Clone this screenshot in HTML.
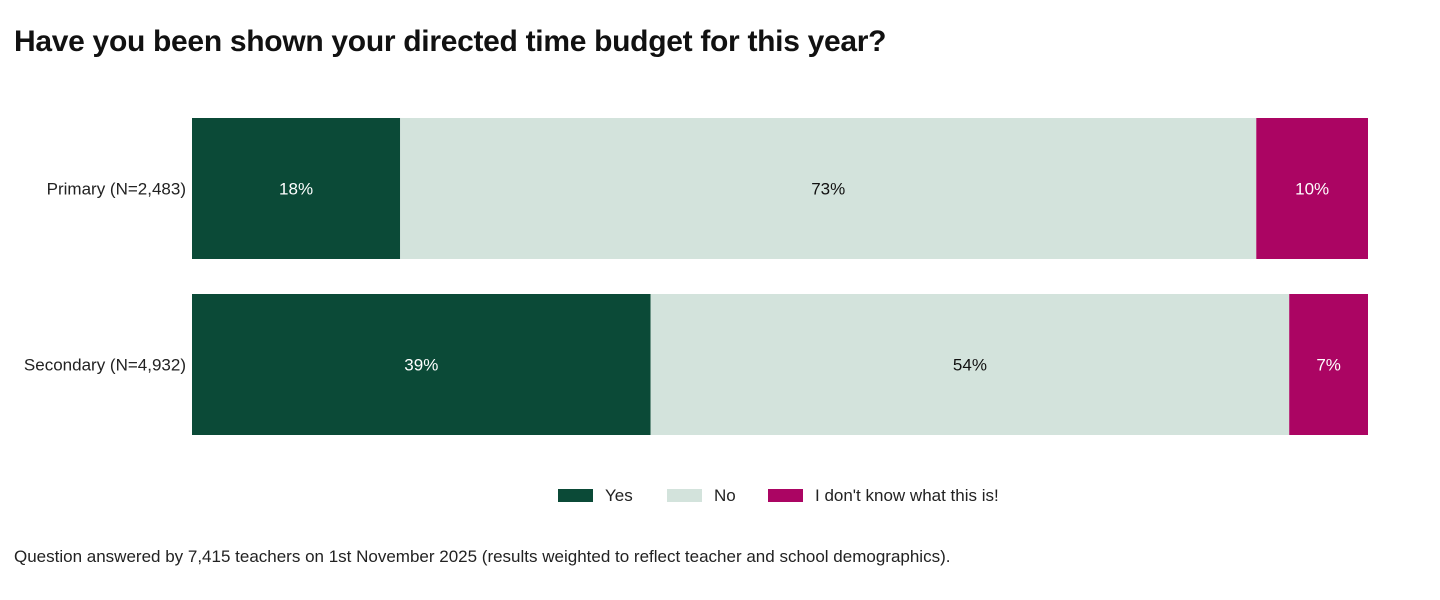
<!DOCTYPE html>
<html><head><meta charset="utf-8"><style>
body{margin:0;width:1440px;height:600px;background:#fff;font-family:"Liberation Sans",sans-serif;overflow:hidden;position:relative}
#title{position:absolute;left:14px;top:25px;font-size:30px;font-weight:bold;color:#111;letter-spacing:-0.3px;margin:0}
#note{position:absolute;left:14px;top:547px;font-size:17px;color:#222}
</style></head><body>
<h1 id="title">Have you been shown your directed time budget for this year?</h1>
<svg id="chart" width="1440" height="530" style="position:absolute;left:0;top:0"></svg>
<div id="note">Question answered by 7,415 teachers on 1st November 2025 (results weighted to reflect teacher and school demographics).</div>
<script>
const categories=["Primary (N=2,483)","Secondary (N=4,932)"];
const seriesNames=["Yes","No","I don't know what this is!"];
const yesVals=[17.7,39.0];
const noVals=[72.8,54.3];
const idkVals=[9.5,6.7];
const yesLabels=["18%","39%"];
const noLabels=["73%","54%"];
const idkLabels=["10%","7%"];
const colors=["#0b4a37","#d3e3dc","#ab0563"];
const textColors=["#fff","#111","#fff"];
const svg=document.getElementById('chart');
const NS="http://www.w3.org/2000/svg";
const x0=192,x1=1368;
const xs=v=>x0+(x1-x0)*v/100;
const bandTop=118,bandStep=176,barH=141;
const ys=i=>bandTop+i*bandStep;
function mk(t,a){const e=document.createElementNS(NS,t);for(const k in a)e.setAttribute(k,a[k]);svg.appendChild(e);return e;}
const series=[yesVals,noVals,idkVals],labels=[yesLabels,noLabels,idkLabels];
categories.forEach((c,i)=>{
  const y=ys(i);
  const t=mk('text',{x:186,y:y+barH/2+6,'text-anchor':'end','font-size':17,fill:'#222'});
  
  
  t.textContent=c;
  let cum=0;
  series.forEach((s,j)=>{
    const r=mk('rect',{x:xs(cum),y:y,width:xs(cum+s[i])-xs(cum),height:barH,fill:colors[j]});
    
    
    const lt=mk('text',{x:(xs(cum)+xs(cum+s[i]))/2,y:y+barH/2+6,'text-anchor':'middle','font-size':17,fill:textColors[j]});
    
    
    lt.textContent=labels[j][i];
    cum+=s[i];
  });
});
const legX=[558,667,768];
seriesNames.forEach((n,j)=>{
  const r=mk('rect',{x:legX[j],y:489,width:35,height:13,fill:colors[j]});
  
  
  const t=mk('text',{x:legX[j]+47,y:501,'font-size':17,fill:'#222'});
  
  
  t.textContent=n;
});
</script>
</body></html>
